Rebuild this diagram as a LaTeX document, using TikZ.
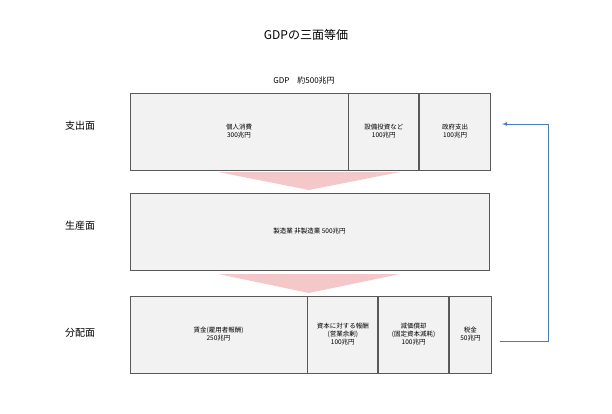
\documentclass[tikz,border=0pt]{standalone}
\usepackage{fontspec}
\setmainfont{Noto Sans CJK JP}
\usetikzlibrary{positioning}
\definecolor{boxgray}{HTML}{F2F2F2}
\definecolor{linegray}{HTML}{595959}
\definecolor{flowpink}{HTML}{F4C7C9}
\definecolor{loopblue}{HTML}{4A7EBB}
\begin{document}
\begin{tikzpicture}[x=1pt,y=-1pt,
  cell/.style={draw=linegray,fill=boxgray,line width=0.8pt,inner sep=0pt,font=\fontsize{6.5}{8}\selectfont,align=center},
  side/.style={font=\fontsize{10}{12}\selectfont}]
\useasboundingbox (0,0) rectangle (612,413);
\node at (306,35) {\fontsize{12}{14}\selectfont GDPの三面等価};
\node at (304,80) {\fontsize{8}{10}\selectfont GDP\quad 約500兆円};
% 支出面
\node[side] (exp) at (80,126) {支出面};
\node[cell,minimum width=218pt,minimum height=77pt] (e1) at (239,131.5) {個人消費\\300兆円};
\node[cell,minimum width=70pt,minimum height=77pt,right=0pt of e1] (e2) {設備投資など\\100兆円};
\node[cell,minimum width=71pt,minimum height=77pt,right=0pt of e2] (e3) {政府支出\\100兆円};
% 生産面
\node[side] (pro) at (80,226) {生産面};
\node[cell,minimum width=359pt,minimum height=77pt] (p1) at (309.5,231.5) {製造業\ 非製造業\ 500兆円};
% 分配面
\node[side] (dis) at (80,333) {分配面};
\node[cell,minimum width=177pt,minimum height=77pt] (d1) at (218.5,334.5) {賃金(雇用者報酬)\\250兆円};
\node[cell,minimum width=70pt,minimum height=77pt,right=0pt of d1] (d2) {資本に対する報酬\\(営業余剰)\\100兆円};
\node[cell,minimum width=70pt,minimum height=77pt,right=0pt of d2] (d3) {減価償却\\(固定資本減耗)\\100兆円};
\node[cell,minimum width=42pt,minimum height=77pt,right=0pt of d3] (d4) {税金\\50兆円};
% flows
\fill[flowpink] (218,172) -- (400,172) -- (309,190) -- cycle;
\fill[flowpink] (218,274) -- (400,274) -- (309,293) -- cycle;
\coordinate (b0) at (500,341);
\coordinate (b1) at (548,341);
\coordinate (b2) at (548,124);
\coordinate (b3) at (502,124);
\draw[loopblue,line width=0.8pt,-latex] (b0) -- (b1) -- (b2) -- (b3);
\end{tikzpicture}
\end{document}
